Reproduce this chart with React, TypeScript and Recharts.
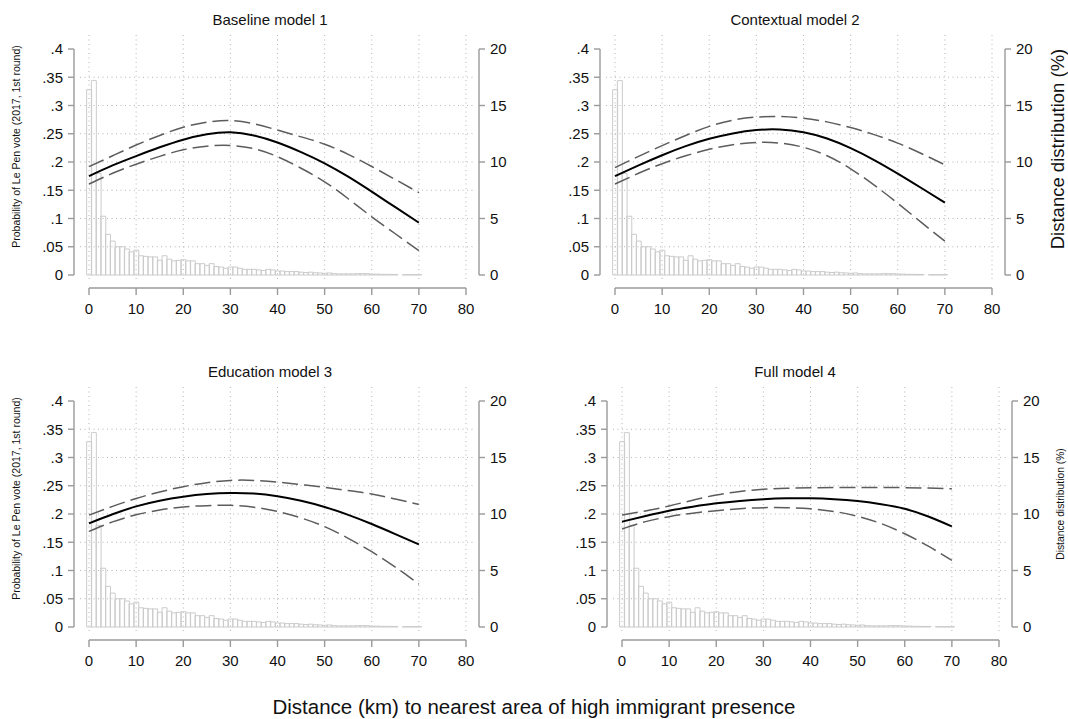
import React from "react";
import {
  ComposedChart,
  Bar,
  Line,
  XAxis,
  YAxis,
  CartesianGrid,
} from "recharts";

// histogram of distances (1 km bins), in % of municipalities
const DIST_KM = [
  0, 1, 2, 3, 4, 5, 6, 7, 8, 9, 10, 11, 12, 13, 14, 15, 16, 17, 18, 19, 20, 21, 22, 23, 24,
  25, 26, 27, 28, 29, 30, 31, 32, 33, 34, 35, 36, 37, 38, 39, 40, 41, 42, 43, 44, 45, 46, 47,
  48, 49, 50, 51, 52, 53, 54, 55, 56, 57, 58, 59, 60, 61, 62, 63, 64, 65, 66, 67, 68, 69, 70,
];
const DIST_PCT = [
  16.4, 17.2, 9.0, 5.2, 3.6, 3.0, 2.5, 2.5, 2.3, 2.05, 2.2, 1.7, 1.65, 1.6, 1.6, 1.3, 1.7, 1.4,
  1.25, 1.3, 1.35, 1.25, 1.25, 1.0, 1.0, 0.85, 1.0, 0.75, 0.7, 0.6, 0.7, 0.7, 0.6, 0.5, 0.5, 0.5,
  0.45, 0.4, 0.5, 0.45, 0.35, 0.35, 0.3, 0.3, 0.3, 0.25, 0.22, 0.25, 0.2, 0.18, 0.15, 0.18, 0.12,
  0.1, 0.1, 0.1, 0.1, 0.12, 0.12, 0.12, 0.08, 0.08, 0.06, 0.06, 0.05, 0.05, 0, 0.03, 0.03, 0.03,
  0.03,
];

// predicted probability curves
const CURVE_KM = [0, 5, 10, 15, 20, 25, 30, 35, 40, 45, 50, 55, 60, 65, 70];

const M1_FIT = [0.175, 0.194, 0.2105, 0.226, 0.2395, 0.249, 0.2525, 0.247, 0.2345, 0.2175, 0.1977, 0.174, 0.1475, 0.12, 0.0926];
const M1_UP = [0.1917, 0.211, 0.23, 0.247, 0.2615, 0.2705, 0.2735, 0.2675, 0.2565, 0.2445, 0.2315, 0.2135, 0.192, 0.169, 0.1457];
const M1_LO = [0.161, 0.18, 0.196, 0.21, 0.2215, 0.228, 0.2292, 0.2235, 0.2094, 0.189, 0.165, 0.135, 0.103, 0.073, 0.043];

const M2_FIT = [0.175, 0.194, 0.212, 0.228, 0.241, 0.2505, 0.2565, 0.2575, 0.2525, 0.2415, 0.2245, 0.2035, 0.1795, 0.154, 0.128];
const M2_UP = [0.19, 0.21, 0.229, 0.247, 0.263, 0.274, 0.2795, 0.2805, 0.2775, 0.271, 0.261, 0.2485, 0.2335, 0.215, 0.195];
const M2_LO = [0.161, 0.18, 0.197, 0.211, 0.2225, 0.2305, 0.2345, 0.2335, 0.226, 0.211, 0.188, 0.159, 0.127, 0.093, 0.06];

const M3_FIT = [0.1835, 0.1995, 0.2135, 0.2235, 0.2305, 0.2352, 0.2372, 0.2362, 0.2315, 0.2235, 0.2125, 0.1985, 0.1823, 0.1645, 0.1463];
const M3_UP = [0.198, 0.2135, 0.2275, 0.239, 0.2484, 0.2555, 0.2595, 0.2595, 0.2565, 0.252, 0.2472, 0.2415, 0.2354, 0.2265, 0.2171];
const M3_LO = [0.1693, 0.186, 0.1985, 0.207, 0.2125, 0.2148, 0.2153, 0.212, 0.2045, 0.193, 0.1776, 0.157, 0.1333, 0.106, 0.076];

const M4_FIT = [0.1864, 0.1965, 0.2059, 0.213, 0.2189, 0.2232, 0.2262, 0.2278, 0.2278, 0.2262, 0.2228, 0.2172, 0.2092, 0.1955, 0.178];
const M4_UP = [0.198, 0.2055, 0.2142, 0.2245, 0.2336, 0.2398, 0.2438, 0.2456, 0.2464, 0.2468, 0.247, 0.247, 0.2466, 0.2458, 0.2448];
const M4_LO = [0.1735, 0.1865, 0.1953, 0.2015, 0.2059, 0.2093, 0.2112, 0.2112, 0.2092, 0.2045, 0.196, 0.183, 0.165, 0.143, 0.118];

const KM_TICKS = [0, 10, 20, 30, 40, 50, 60, 70, 80];
const PROB_TICKS = [0, 0.05, 0.1, 0.15, 0.2, 0.25, 0.3, 0.35, 0.4];
const PROB_LABELS = ["0", ".05", ".1", ".15", ".2", ".25", ".3", ".35", ".4"];
const PCT_TICKS = [0, 5, 10, 15, 20];
const PROB_GRID = [0.05, 0.1, 0.15, 0.2, 0.25, 0.3, 0.35];

// plot region geometry (Stata puts axes a few px outside the region)
const PX_KM = 377 / 80;
const PX_PROB = 565;
const PAD_L = 80; // chart margin.left + left YAxis width
const PAD_T = 35; // chart margin.top
const X_PAD = 9;
const Y_PAD_TOP = 14;
const Y_PAD_BOTTOM = 6;
const X_DOMAIN: [number, number] = [-X_PAD / PX_KM, 80 + X_PAD / PX_KM];
const Y_DOMAIN: [number, number] = [-Y_PAD_BOTTOM / PX_PROB, 0.4 + Y_PAD_TOP / PX_PROB];
const PCT_DOMAIN: [number, number] = [Y_DOMAIN[0] * 50, Y_DOMAIN[1] * 50];

const AXIS_GRAY = "#9a9a9a";
const FONT = '"Liberation Sans", Arial, Helvetica, sans-serif';
const CHART_W = 535;

const histData = DIST_KM.map((x, i) => ({ x, pct: DIST_PCT[i] }));

function curveRows(fit: number[], up: number[], lo: number[]) {
  return CURVE_KM.map((x, i) => ({ x, fit: fit[i], upper: up[i], lower: lo[i] }));
}

// same linear maps as the chart scales, used for the offset Stata-style axis lines
const kmPx = (v: number) => PAD_L + X_PAD + v * PX_KM;
const probPx = (v: number) => PAD_T + Y_PAD_TOP + (0.4 - v) * PX_PROB;

function KmTick(props: any) {
  const { x, y, payload } = props;
  return (
    <text x={x} y={y + 33} textAnchor="middle" fontSize={15} fill="#111">
      {payload.value}
    </text>
  );
}

function ProbTick(props: any) {
  const { x, y, index } = props;
  return (
    <text x={x - 17} y={y} dy="0.36em" textAnchor="end" fontSize={15} fill="#111">
      {PROB_LABELS[index]}
    </text>
  );
}

function PctTick(props: any) {
  const { x, y, payload } = props;
  return (
    <text x={x + 15} y={y} dy="0.36em" textAnchor="start" fontSize={15} fill="#111">
      {payload.value}
    </text>
  );
}

function PanelAxes({ left, top }: { left: number; top: number }) {
  const x0 = left + kmPx(0);
  const x80 = left + kmPx(80);
  const yBase = top + probPx(0);
  const yTop = top + probPx(0.4);
  const bottomY = yBase + 13;
  const leftX = x0 - 15;
  const rightX = x80 + 13;
  return (
    <g stroke={AXIS_GRAY} strokeWidth={1.4} fill="none">
      <line x1={x0} x2={x80} y1={bottomY} y2={bottomY} />
      {KM_TICKS.map((v) => (
        <line key={`k${v}`} x1={left + kmPx(v)} x2={left + kmPx(v)} y1={bottomY} y2={bottomY + 7} />
      ))}
      <line x1={leftX} x2={leftX} y1={yBase} y2={yTop} />
      {PROB_TICKS.map((v) => (
        <line key={`p${v}`} x1={leftX - 6} x2={leftX} y1={top + probPx(v)} y2={top + probPx(v)} />
      ))}
      <line x1={rightX} x2={rightX} y1={yBase} y2={yTop} />
      {PCT_TICKS.map((v) => (
        <line key={`c${v}`} x1={rightX} x2={rightX + 6} y1={top + probPx(v / 50)} y2={top + probPx(v / 50)} />
      ))}
    </g>
  );
}

interface PanelProps {
  fit: number[];
  up: number[];
  lo: number[];
  height: number;
}

function Panel({ fit, up, lo, height }: PanelProps) {
  const rows = curveRows(fit, up, lo);
  return (
    <ComposedChart
      width={CHART_W}
      height={height}
      data={histData}
      barCategoryGap={0}
      barGap={0}
      margin={{ top: PAD_T, right: 10, left: 10, bottom: height - 281 - 40 }}
    >
      <CartesianGrid
        yAxisId="p"
        stroke="#b5b5b5"
        strokeDasharray="1 3.5"
        horizontalValues={PROB_GRID}
        verticalValues={KM_TICKS}
      />
      <XAxis
        dataKey="x"
        type="number"
        domain={X_DOMAIN}
        allowDataOverflow
        ticks={KM_TICKS}
        interval={0}
        height={40}
        axisLine={false}
        tickLine={false}
        tickSize={0}
        tickMargin={0}
        tick={<KmTick />}
      />
      <YAxis
        yAxisId="p"
        type="number"
        domain={Y_DOMAIN}
        allowDataOverflow
        ticks={PROB_TICKS}
        interval={0}
        width={PAD_L - 10}
        axisLine={false}
        tickLine={false}
        tickSize={0}
        tickMargin={0}
        tick={<ProbTick />}
      />
      <YAxis
        yAxisId="pct"
        orientation="right"
        type="number"
        domain={PCT_DOMAIN}
        allowDataOverflow
        ticks={PCT_TICKS}
        interval={0}
        width={50}
        axisLine={false}
        tickLine={false}
        tickSize={0}
        tickMargin={0}
        tick={<PctTick />}
      />
      <Bar
        yAxisId="pct"
        dataKey="pct"
        fill="none"
        stroke="#cbcbcb"
        strokeWidth={1}
        isAnimationActive={false}
      />
      <Line
        yAxisId="p"
        data={rows}
        dataKey="upper"
        type="natural"
        stroke="#5c5c5c"
        strokeWidth={1.5}
        strokeDasharray="16 6"
        dot={false}
        isAnimationActive={false}
      />
      <Line
        yAxisId="p"
        data={rows}
        dataKey="lower"
        type="natural"
        stroke="#5c5c5c"
        strokeWidth={1.5}
        strokeDasharray="16 6"
        dot={false}
        isAnimationActive={false}
      />
      <Line
        yAxisId="p"
        data={rows}
        dataKey="fit"
        type="natural"
        stroke="#000"
        strokeWidth={2}
        dot={false}
        isAnimationActive={false}
      />
    </ComposedChart>
  );
}

const PANELS = [
  { title: "Baseline model 1", fit: M1_FIT, up: M1_UP, lo: M1_LO, left: 0, top: 0, height: 352, tx: 270, ty: 25 },
  { title: "Contextual model 2", fit: M2_FIT, up: M2_UP, lo: M2_LO, left: 526, top: 0, height: 352, tx: 795, ty: 25 },
  { title: "Education model 3", fit: M3_FIT, up: M3_UP, lo: M3_LO, left: 0, top: 352, height: 367, tx: 270, ty: 377 },
  { title: "Full model 4", fit: M4_FIT, up: M4_UP, lo: M4_LO, left: 533, top: 352, height: 367, tx: 795, ty: 377 },
];

const LEFT_TITLE = "Probability of Le Pen vote (2017, 1st round)";
const RIGHT_TITLE = "Distance distribution (%)";
const X_TITLE = "Distance (km) to nearest area of high immigrant presence";

export default function App() {
  return (
    <div
      style={{
        position: "absolute",
        left: 0,
        top: 0,
        width: 1068,
        height: 719,
        background: "#fff",
        overflow: "hidden",
        fontFamily: FONT,
      }}
    >
      {PANELS.map((p) => (
        <div key={p.title} style={{ position: "absolute", left: p.left, top: p.top }}>
          <Panel fit={p.fit} up={p.up} lo={p.lo} height={p.height} />
        </div>
      ))}
      <svg
        width={1068}
        height={719}
        style={{ position: "absolute", left: 0, top: 0, pointerEvents: "none" }}
      >
        {PANELS.map((p) => (
          <PanelAxes key={`ax-${p.title}`} left={p.left} top={p.top} />
        ))}
        {PANELS.map((p) => (
          <text key={p.title} x={p.tx} y={p.ty} textAnchor="middle" fontSize={15} fill="#111">
            {p.title}
          </text>
        ))}
        <text transform="translate(19.5,146.5) rotate(-90)" textAnchor="middle" fontSize={10.5} fill="#111">
          {LEFT_TITLE}
        </text>
        <text transform="translate(19.5,498.5) rotate(-90)" textAnchor="middle" fontSize={10.5} fill="#111">
          {LEFT_TITLE}
        </text>
        <text transform="translate(1063.5,149) rotate(-90)" textAnchor="middle" fontSize={18.5} fill="#111">
          {RIGHT_TITLE}
        </text>
        <text transform="translate(1064,504) rotate(-90)" textAnchor="middle" fontSize={10.3} fill="#111">
          {RIGHT_TITLE}
        </text>
        <text x={534} y={714} textAnchor="middle" fontSize={20.5} fill="#111">
          {X_TITLE}
        </text>
      </svg>
    </div>
  );
}
